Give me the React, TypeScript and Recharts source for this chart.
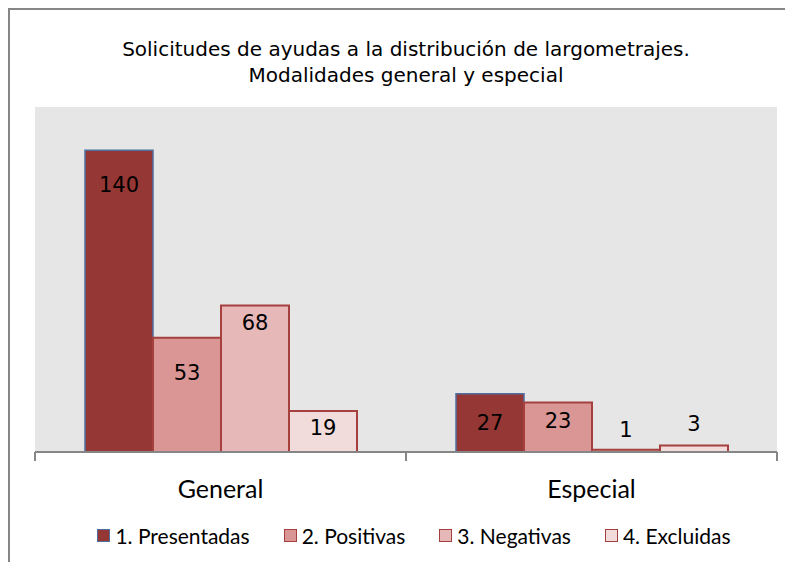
import { Bar, BarChart, CartesianGrid, Legend, XAxis, YAxis } from "recharts";

const categories = ["General", "Especial"];
const presentadas = [140, 27];
const positivas = [53, 23];
const negativas = [68, 1];
const excluidas = [19, 3];
const seriesNames = ["1. Presentadas", "2. Positivas", "3. Negativas", "4. Excluidas"];

const data = categories.map((name, i) => ({
  name,
  presentadas: presentadas[i],
  positivas: positivas[i],
  negativas: negativas[i],
  excluidas: excluidas[i],
}));

const series = [
  { key: "presentadas", fill: "#953735", stroke: "#4f6fa0", width: 1.5 },
  { key: "positivas", fill: "#d99694", stroke: "#a5403e", width: 2 },
  { key: "negativas", fill: "#e6b9b8", stroke: "#a5403e", width: 2 },
  { key: "excluidas", fill: "#f2dcdb", stroke: "#a5403e", width: 2 },
];

// label centre offset from the bar top, per series and category (Excel placed them by hand)
const labelDy: Record<string, number[]> = {
  presentadas: [35, 29],
  positivas: [35, 19],
  negativas: [18, -20],
  excluidas: [17, -22],
};

const W = 800;
const H = 552;
const margin = { top: 97, right: 33, left: 25, bottom: 17 };
const halfBand = (W - margin.left - margin.right) / 4;

function CategoryTick(props: any) {
  const { x, y, payload } = props;
  const axisY = y - 8;
  return (
    <g>
      <line x1={x - halfBand} x2={x - halfBand} y1={axisY} y2={axisY + 9} stroke="#868686" strokeWidth={2} />
      <line x1={x + halfBand} x2={x + halfBand} y1={axisY} y2={axisY + 9} stroke="#868686" strokeWidth={2} />
      <text
        x={x}
        y={axisY + 36}
        textAnchor="middle"
        dominantBaseline="central"
        fontFamily="Lato"
        fontSize={25}
        fill="#000"
      >
        {payload.value}
      </text>
    </g>
  );
}

const makeLabel = (key: string) => (props: any) => {
  const { x, y, width, value, index } = props;
  return (
    <text
      x={x + width / 2}
      y={y + labelDy[key][index]}
      textAnchor="middle"
      dominantBaseline="central"
      fontFamily="DejaVu Sans"
      fontSize={21}
      fill="#000"
    >
      {value}
    </text>
  );
};

function LegendBox() {
  return (
    <div
      style={{
        display: "flex",
        justifyContent: "center",
        gap: 34,
        height: 20,
        alignItems: "center",
        paddingLeft: 16,
        fontFamily: "Lato",
        fontSize: 21,
      }}
    >
      {series.map((s, i) => (
        <div key={s.key} style={{ display: "flex", alignItems: "center", gap: 5 }}>
          <span
            style={{
              display: "inline-block",
              width: 11,
              height: 11,
              background: s.fill,
              border: `1.5px solid ${s.stroke}`,
            }}
          />
          <span>{seriesNames[i]}</span>
        </div>
      ))}
    </div>
  );
}

export default function App() {
  return (
    <div
      style={{
        position: "relative",
        width: W,
        height: H,
        borderLeft: "2px solid #868686",
        borderTop: "2px solid #868686",
        background: "#fff",
      }}
    >
      <div
        style={{
          position: "absolute",
          top: 26,
          left: 0,
          width: 2 * (margin.left + 2 * halfBand) - 0,
          textAlign: "center",
          fontFamily: "DejaVu Sans",
          fontSize: 20,
          lineHeight: "26px",
          color: "#000",
        }}
      >
        Solicitudes de ayudas a la distribución de largometrajes.
        <br />
        Modalidades general y especial
      </div>
      <BarChart width={W} height={H} data={data} margin={margin} barCategoryGap={50} barGap={0}>
        <CartesianGrid fill="#e6e6e6" stroke="none" vertical={false} horizontal={false} />
        <YAxis hide domain={[0, 160]} />
        <XAxis
          dataKey="name"
          height={73}
          axisLine={{ stroke: "#868686", strokeWidth: 2 }}
          tickLine={false}
          tickSize={6}
          tickMargin={2}
          tick={<CategoryTick />}
          interval={0}
        />
        <Legend verticalAlign="bottom" height={20} content={() => <LegendBox />} />
        {series.map((s) => (
          <Bar
            key={s.key}
            dataKey={s.key}
            fill={s.fill}
            stroke={s.stroke}
            strokeWidth={s.width}
            isAnimationActive={false}
            label={makeLabel(s.key)}
          />
        ))}
      </BarChart>
    </div>
  );
}
